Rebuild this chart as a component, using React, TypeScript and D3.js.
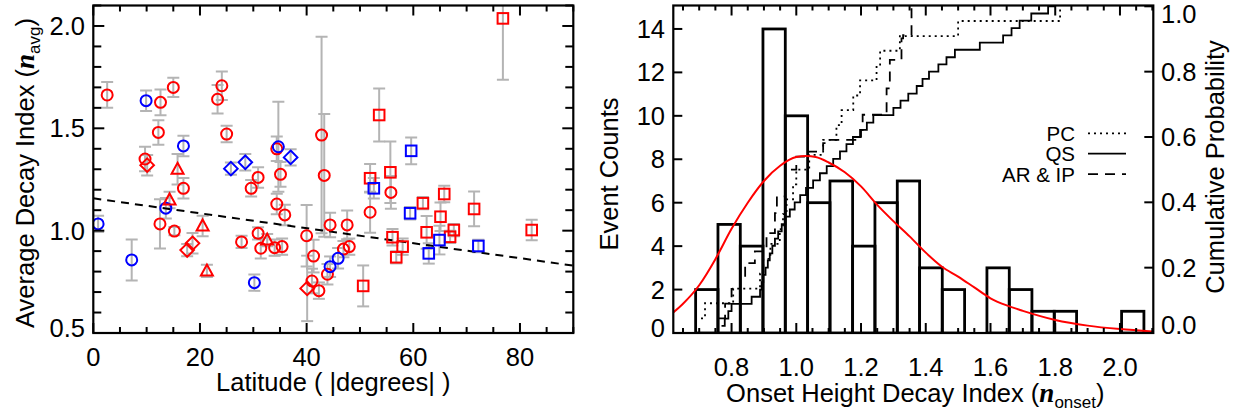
import React from "react";
import * as d3 from "d3";

// ---------------- Left panel data: [latitude, n_avg, error] ----------------
const redCircles: number[][] = [
  [2.6, 1.663, 0.063], [12.6, 1.627, 0.063], [15.0, 1.7, 0.047], [24.1, 1.708, 0.07],
  [23.3, 1.642, 0.07], [12.2, 1.48, 0.06], [25.0, 1.472, 0.04], [9.7, 1.35, 0.06],
  [30.9, 1.26, 0.05], [29.6, 1.207, 0.04], [16.9, 1.207, 0.05], [12.5, 1.033, 0.12],
  [15.2, 0.998, 0.02], [27.8, 0.945, 0.03], [30.9, 0.987, 0.03], [31.4, 0.914, 0.05],
  [34.4, 1.4, 0.06], [35.1, 1.275, 0.06], [42.8, 1.467, 0.48], [43.3, 1.27, 0.3],
  [55.8, 1.187, 0.08], [34.4, 1.13, 0.05], [35.9, 1.077, 0.05], [51.9, 1.09, 0.1],
  [34.0, 0.917, 0.04], [35.4, 0.922, 0.04], [40.0, 0.975, 0.15], [44.4, 1.028, 0.06],
  [47.6, 1.028, 0.07], [46.9, 0.91, 0.04], [48.0, 0.922, 0.04], [43.9, 0.787, 0.05],
  [41.3, 0.876, 0.08], [41.0, 0.754, 0.06], [42.3, 0.707, 0.04],
];
const blueCircles: number[][] = [
  [9.9, 1.635, 0.05], [16.9, 1.414, 0.05], [13.6, 1.11, 0.05], [0.9, 1.033, 0.04],
  [7.2, 0.857, 0.1], [30.2, 0.746, 0.04], [34.7, 1.41, 0.22], [45.9, 0.865, 0.05],
  [44.4, 0.824, 0.05],
];
const redDiamonds: number[][] = [
  [10.1, 1.32, 0.05], [18.6, 0.938, 0.05], [17.6, 0.905, 0.03], [40.1, 0.718, 0.16],
];
const blueDiamonds: number[][] = [
  [25.8, 1.303, 0.03], [28.5, 1.334, 0.04], [37.0, 1.358, 0.04],
];
const redTriangles: number[][] = [
  [15.8, 1.3, 0.075], [14.3, 1.15, 0.04], [20.5, 1.023, 0.05], [21.3, 0.803, 0.03],
  [32.6, 0.954, 0.03],
];
const redSquares: number[][] = [
  [76.8, 2.037, 0.3], [53.6, 1.565, 0.13], [55.7, 1.285, 0.15], [51.9, 1.256, 0.07],
  [61.8, 1.134, 0.03], [65.8, 1.179, 0.04], [65.1, 1.068, 0.07], [71.4, 1.106, 0.085],
  [82.2, 1.003, 0.05], [67.6, 1.003, 0.03], [66.9, 0.97, 0.03], [62.5, 0.992, 0.08],
  [56.1, 0.968, 0.04], [58.0, 0.922, 0.04], [56.8, 0.87, 0.03], [50.6, 0.73, 0.1],
];
const blueSquares: number[][] = [
  [59.6, 1.39, 0.065], [52.6, 1.207, 0.05], [59.4, 1.085, 0.03], [62.9, 0.889, 0.05],
  [64.9, 0.954, 0.07], [72.2, 0.925, 0.03],
];
const trendLine: number[][] = [[0, 1.158], [90, 0.829]];
const latTicks = [0, 20, 40, 60, 80];
const navgTicks = [0.5, 1.0, 1.5, 2.0];

// ---------------- Right panel data ----------------
const binEdges = [0.689, 0.758, 0.827, 0.897, 0.966, 1.035, 1.104, 1.174, 1.243, 1.312, 1.381,
  1.451, 1.52, 1.589, 1.658, 1.728, 1.797, 1.866, 1.935, 2.005, 2.074];
const binCounts = [2, 5, 4, 14, 10, 6, 7, 4, 6, 7, 3, 2, 0, 3, 2, 1, 1, 0, 0, 1];
const fitX = [0.62, 0.65, 0.7, 0.75, 0.8, 0.85, 0.9, 0.95, 1.0, 1.03, 1.06, 1.1, 1.15, 1.2, 1.25,
  1.3, 1.35, 1.4, 1.45, 1.5, 1.55, 1.6, 1.65, 1.7, 1.8, 1.9, 2.0, 2.1];
const fitY = [0.95, 1.35, 2.2, 3.4, 4.8, 6.0, 7.0, 7.7, 8.1, 8.15, 8.1, 7.85, 7.4, 6.75, 5.9,
  5.15, 4.45, 3.7, 3.05, 2.6, 2.1, 1.6, 1.27, 1.02, 0.6, 0.34, 0.18, 0.07];
const cdfPC: number[][] = [
  [0.687, 0.045], [0.718, 0.091], [0.805, 0.136], [0.888, 0.182], [0.898, 0.227], [0.92, 0.273],
  [0.949, 0.318], [0.959, 0.364], [0.97, 0.409], [0.99, 0.455], [1.0, 0.5], [1.04, 0.545],
  [1.083, 0.591], [1.124, 0.636], [1.14, 0.682], [1.176, 0.727], [1.197, 0.773], [1.248, 0.818],
  [1.259, 0.864], [1.32, 0.909], [1.5, 0.955], [1.815, 1.0], [1.815, 1.0],
];
const cdfQS: number[][] = [
  [0.769, 0.022], [0.779, 0.044], [0.79, 0.067], [0.8, 0.089], [0.862, 0.111], [0.888, 0.133],
  [0.893, 0.156], [0.898, 0.178], [0.905, 0.2], [0.912, 0.222], [0.918, 0.244], [0.926, 0.267],
  [0.934, 0.289], [0.944, 0.311], [0.955, 0.333], [0.966, 0.356], [0.98, 0.378], [0.995, 0.4],
  [1.012, 0.422], [1.03, 0.444], [1.052, 0.467], [1.073, 0.489], [1.094, 0.511], [1.114, 0.533],
  [1.135, 0.556], [1.155, 0.578], [1.175, 0.6], [1.197, 0.622], [1.218, 0.644], [1.238, 0.667],
  [1.3, 0.689], [1.322, 0.711], [1.346, 0.733], [1.372, 0.756], [1.39, 0.778], [1.41, 0.8],
  [1.439, 0.822], [1.464, 0.844], [1.49, 0.867], [1.567, 0.889], [1.639, 0.911], [1.665, 0.933],
  [1.69, 0.956], [1.726, 0.978], [1.778, 1.0], [1.8, 1.0],
];
const cdfAR: number[][] = [
  [0.76, 0.045], [0.78, 0.09], [0.8, 0.135], [0.826, 0.168], [0.842, 0.214], [0.872, 0.25],
  [0.908, 0.306], [0.934, 0.367], [0.94, 0.418], [0.965, 0.5], [1.0, 0.54], [1.037, 0.555],
  [1.083, 0.581], [1.099, 0.591], [1.2, 0.622], [1.205, 0.668], [1.279, 0.749], [1.289, 0.836],
  [1.325, 0.902], [1.33, 0.912], [1.356, 1.0], [1.36, 1.0],
];
const onsetTicks = [0.8, 1.0, 1.2, 1.4, 1.6, 1.8, 2.0];
const countTicks = [0, 2, 4, 6, 8, 10, 12, 14];
const probTicks = [0, 0.2, 0.4, 0.6, 0.8, 1.0];
const legendItems = [
  { label: "PC", dash: "2,4" },
  { label: "QS", dash: "none" },
  { label: "AR & IP", dash: "10,7" },
];

const SANS = "'Liberation Sans', Arial, Helvetica, sans-serif";
const SERIF = "'Liberation Serif', 'DejaVu Serif', serif";
const RED = "#ff0000";
const BLUE = "#0000ff";
const GRAY = "#b4b4b4";
const FS = 25.5;

const L = { x0: 93.3, x1: 573.3, y0: 5.5, y1: 333 };
const R = { x0: 673.3, x1: 1153.3, y0: 5.5, y1: 333 };

const xL = d3.scaleLinear().domain([0, 90]).range([L.x0, L.x1]);
const yL = d3.scaleLinear().domain([0.5, 2.1]).range([L.y1, L.y0]);
const xR = d3.scaleLinear().domain([0.62, 2.103]).range([R.x0, R.x1]);
const yC = d3.scaleLinear().domain([0, 15.08]).range([R.y1, R.y0]);
const yP = d3.scaleLinear().domain([0, 1]).range([R.y1, 6.3]);

function Marker({ shape, color, x, y }: { shape: string; color: string; x: number; y: number }) {
  const common = { fill: "none", stroke: color, strokeWidth: 2 };
  if (shape === "circle") return <circle cx={x} cy={y} r={5.5} {...common} />;
  if (shape === "square") return <rect x={x - 5.3} y={y - 5.3} width={10.6} height={10.6} {...common} />;
  if (shape === "diamond")
    return <path d={`M${x},${y - 6.8}L${x + 6.8},${y}L${x},${y + 6.8}L${x - 6.8},${y}Z`} {...common} />;
  return <path d={`M${x},${y - 6.5}L${x + 6},${y + 4.5}L${x - 6},${y + 4.5}Z`} {...common} />;
}

const leftSeries = [
  { data: redCircles, shape: "circle", color: RED },
  { data: blueCircles, shape: "circle", color: BLUE },
  { data: redDiamonds, shape: "diamond", color: RED },
  { data: blueDiamonds, shape: "diamond", color: BLUE },
  { data: redTriangles, shape: "triangle", color: RED },
  { data: redSquares, shape: "square", color: RED },
  { data: blueSquares, shape: "square", color: BLUE },
];

function clampLabel(y: number, y0: number, y1: number) {
  return Math.max(y0 + 8, Math.min(y1 - 5, y));
}

export default function App() {
  const latMinor = d3.range(0, 91, 5);
  const navgMinor = d3.range(5, 22).map((i) => i / 10);
  const onsetMinor = d3.range(-3, 30).map((k) => 0.8 + k * 0.05).filter((v) => v >= 0.62 && v <= 2.103);

  const line = d3.line<number[]>().x((d) => xL(d[0])).y((d) => yL(d[1]));
  const fitLine = d3.line<number>().x((_, i) => xR(fitX[i])).y((d) => yC(d)).curve(d3.curveMonotoneX);
  const stepLine = d3.line<number[]>().x((d) => xR(d[0])).y((d) => yP(d[1])).curve(d3.curveStepAfter);

  return (
    <svg width={1242} height={414} style={{ position: "absolute", left: 0, top: 0, background: "#fff" }}
      fontFamily={SANS}>
      <defs>
        <clipPath id="clipL"><rect x={L.x0} y={L.y0} width={L.x1 - L.x0} height={L.y1 - L.y0} /></clipPath>
        <clipPath id="clipR"><rect x={R.x0} y={R.y0} width={R.x1 - R.x0} height={R.y1 - R.y0} /></clipPath>
      </defs>
      <rect x={0} y={0} width={1242} height={414} fill="#fff" />

      {/* ===== Left panel ===== */}
      <g clipPath="url(#clipL)">
        {leftSeries.map((s, si) =>
          s.data.map((d, i) => {
            const x = xL(d[0]);
            const ylo = yL(d[1] - d[2]);
            const yhi = yL(d[1] + d[2]);
            return (
              <g key={`e${si}-${i}`} stroke={GRAY} strokeWidth={2}>
                <line x1={x} x2={x} y1={ylo} y2={yhi} />
                <line x1={x - 6} x2={x + 6} y1={ylo} y2={ylo} />
                <line x1={x - 6} x2={x + 6} y1={yhi} y2={yhi} />
              </g>
            );
          })
        )}
        <path d={line(trendLine) || ""} fill="none" stroke="#000" strokeWidth={2} strokeDasharray="8,6" />
        {leftSeries.map((s, si) =>
          s.data.map((d, i) => (
            <Marker key={`m${si}-${i}`} shape={s.shape} color={s.color} x={xL(d[0])} y={yL(d[1])} />
          ))
        )}
      </g>
      <g stroke="#000" strokeWidth={2}>
        {latMinor.map((v) => {
          const len = v % 20 === 0 ? 10 : 6;
          const x = xL(v);
          return (
            <g key={`lx${v}`}>
              <line x1={x} x2={x} y1={L.y1} y2={L.y1 - len} />
              <line x1={x} x2={x} y1={L.y0} y2={L.y0 + len} />
            </g>
          );
        })}
        {navgMinor.map((v, i) => {
          const len = Math.round(v * 10) % 5 === 0 ? 11 : 8;
          const y = yL(v);
          return (
            <g key={`ly${i}`}>
              <line x1={L.x0} x2={L.x0 + len} y1={y} y2={y} />
              <line x1={L.x1} x2={L.x1 - len} y1={y} y2={y} />
            </g>
          );
        })}
      </g>
      <rect x={L.x0} y={L.y0} width={L.x1 - L.x0} height={L.y1 - L.y0} fill="none" stroke="#000" strokeWidth={2.2} />
      {latTicks.map((v) => (
        <text key={`lxl${v}`} x={xL(v)} y={366} textAnchor="middle" fontSize={FS}>{v}</text>
      ))}
      {navgTicks.map((v) => (
        <text key={`lyl${v}`} x={85} y={clampLabel(yL(v), L.y0, L.y1) + 9} textAnchor="end" fontSize={FS}>
          {v.toFixed(1)}
        </text>
      ))}
      <text x={(L.x0 + L.x1) / 2} y={391} textAnchor="middle" fontSize={FS}>Latitude ( |degrees| )</text>
      <text transform={`translate(34,173) rotate(-90)`} textAnchor="middle" fontSize={FS}>
        Average Decay Index (
        <tspan fontFamily={SERIF} fontWeight="bold" fontStyle="italic" fontSize={27}>n</tspan>
        <tspan fontSize={17} dy={6}>avg</tspan>
        <tspan dy={-6}>)</tspan>
      </text>

      {/* ===== Right panel ===== */}
      <g clipPath="url(#clipR)">
        {binCounts.map((c, i) =>
          c > 0 ? (
            <rect key={`b${i}`} x={xR(binEdges[i])} y={yC(c)} width={xR(binEdges[i + 1]) - xR(binEdges[i])}
              height={yC(0) - yC(c)} fill="none" stroke="#000" strokeWidth={2.8} />
          ) : null
        )}
        <path d={stepLine(cdfPC) || ""} fill="none" stroke="#000" strokeWidth={1.8} strokeDasharray="2,4" />
        <path d={stepLine(cdfQS) || ""} fill="none" stroke="#000" strokeWidth={1.8} />
        <path d={stepLine(cdfAR) || ""} fill="none" stroke="#000" strokeWidth={1.8} strokeDasharray="10,7" />
        <path d={fitLine(fitY) || ""} fill="none" stroke={RED} strokeWidth={2} />
      </g>
      <g stroke="#000" strokeWidth={2}>
        {onsetMinor.map((v, i) => {
          const major = onsetTicks.some((t) => Math.abs(t - v) < 1e-6);
          const len = major ? 10 : 5;
          const x = xR(v);
          return (
            <g key={`rx${i}`}>
              <line x1={x} x2={x} y1={R.y1} y2={R.y1 - len} />
              <line x1={x} x2={x} y1={R.y0} y2={R.y0 + len} />
            </g>
          );
        })}
        {countTicks.map((v) => (
          <line key={`rc${v}`} x1={R.x0} x2={R.x0 + 9} y1={yC(v)} y2={yC(v)} />
        ))}
        {probTicks.map((v) => (
          <line key={`rp${v}`} x1={R.x1} x2={R.x1 - 9} y1={yP(v)} y2={yP(v)} />
        ))}
      </g>
      <rect x={R.x0} y={R.y0} width={R.x1 - R.x0} height={R.y1 - R.y0} fill="none" stroke="#000" strokeWidth={2.2} />
      {onsetTicks.map((v) => (
        <text key={`rxl${v}`} x={xR(v)} y={376} textAnchor="middle" fontSize={FS}>{v.toFixed(1)}</text>
      ))}
      {countTicks.map((v) => (
        <text key={`rcl${v}`} x={665} y={clampLabel(yC(v), R.y0, R.y1) + 9} textAnchor="end" fontSize={FS}>{v}</text>
      ))}
      {probTicks.map((v) => (
        <text key={`rpl${v}`} x={1161} y={Math.max(R.y0 + 8, Math.min(R.y1 - 8, yP(v))) + 9} textAnchor="start"
          fontSize={FS}>{v.toFixed(1)}</text>
      ))}
      {legendItems.map((it, i) => {
        const y = 133.3 + i * 20.4;
        return (
          <g key={`lg${i}`}>
            <text x={1075} y={y + 7.5} textAnchor="end" fontSize={20.5}>{it.label}</text>
            <line x1={1088} x2={1126} y1={y} y2={y} stroke="#000" strokeWidth={1.8}
              strokeDasharray={it.dash === "none" ? undefined : it.dash} />
          </g>
        );
      })}
      <text x={(R.x0 + R.x1) / 2 + 2} y={402} textAnchor="middle" fontSize={FS}>
        Onset Height Decay Index (
        <tspan fontFamily={SERIF} fontWeight="bold" fontStyle="italic" fontSize={27}>n</tspan>
        <tspan fontSize={17} dy={6}>onset</tspan>
        <tspan dy={-6}>)</tspan>
      </text>
      <text transform={`translate(618,174) rotate(-90)`} textAnchor="middle" fontSize={FS}>Event Counts</text>
      <text transform={`translate(1224,167) rotate(-90)`} textAnchor="middle" fontSize={FS}>Cumulative Probability</text>
    </svg>
  );
}
